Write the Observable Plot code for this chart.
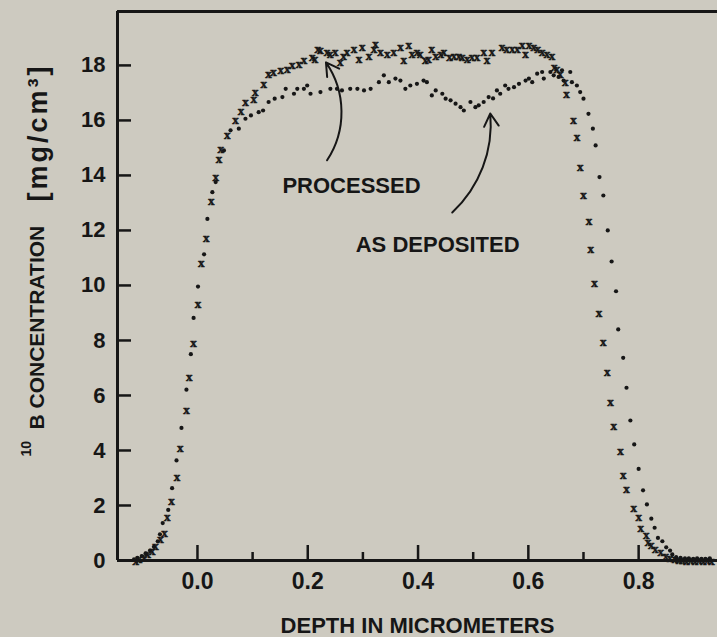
<!DOCTYPE html>
<html>
<head>
<meta charset="utf-8">
<script src="https://cdn.jsdelivr.net/npm/d3@7"></script>
<script src="https://cdn.jsdelivr.net/npm/@observablehq/plot@0.6"></script>
<style>
  html, body { margin: 0; padding: 0; background: #cdcac0; }
  #chart svg { display: block; }
</style>
</head>
<body>
<div id="chart"></div>
<script>
// 10B depth profile: processed film (x symbols)
const processedDepth = [
  -0.112, -0.106, -0.097, -0.090, -0.082, -0.076, -0.067, -0.060, -0.055, -0.047,
  -0.037, -0.031, -0.020, -0.015, -0.007, 0.001, 0.007, 0.016, 0.025, 0.033,
  0.039, 0.042, 0.054, 0.069, 0.079, 0.087, 0.102, 0.105, 0.120, 0.129,
  0.138, 0.151, 0.163, 0.172, 0.184, 0.193, 0.208, 0.213, 0.218, 0.223,
  0.235, 0.241, 0.250, 0.259, 0.265, 0.271, 0.284, 0.293, 0.299, 0.311,
  0.320, 0.323, 0.332, 0.344, 0.356, 0.368, 0.374, 0.383, 0.389, 0.398,
  0.404, 0.413, 0.419, 0.425, 0.432, 0.441, 0.447, 0.457, 0.465, 0.474,
  0.480, 0.489, 0.498, 0.507, 0.519, 0.525, 0.534, 0.552, 0.561, 0.571,
  0.580, 0.589, 0.595, 0.601, 0.610, 0.617, 0.625, 0.634, 0.643, 0.647,
  0.652, 0.658, 0.667, 0.669, 0.682, 0.688, 0.694, 0.700, 0.710, 0.713,
  0.720, 0.728, 0.736, 0.743, 0.749, 0.755, 0.767, 0.772, 0.778, 0.791,
  0.800, 0.804, 0.814, 0.817, 0.823, 0.830, 0.840, 0.849, 0.857, 0.866,
  0.873, 0.880, 0.887, 0.895, 0.902, 0.910, 0.917, 0.925, 0.932
];
const processedConc = [
  0.06, 0.12, 0.20, 0.28, 0.40, 0.58, 0.85, 1.07, 1.64, 2.22,
  3.09, 4.15, 5.55, 6.73, 7.97, 9.39, 10.87, 11.80, 13.13, 14.00,
  14.64, 15.03, 15.52, 16.06, 16.42, 16.73, 16.85, 17.09, 17.39, 17.76,
  17.82, 17.88, 17.94, 18.06, 18.12, 18.24, 18.36, 18.30, 18.67, 18.61,
  18.55, 18.48, 18.55, 18.18, 18.42, 18.55, 18.67, 18.30, 18.73, 18.42,
  18.67, 18.85, 18.55, 18.48, 18.55, 18.73, 18.24, 18.79, 18.48, 18.55,
  18.48, 18.24, 18.30, 18.67, 18.42, 18.48, 18.55, 18.36, 18.42, 18.42,
  18.36, 18.30, 18.36, 18.36, 18.55, 18.24, 18.55, 18.73, 18.67, 18.67,
  18.67, 18.79, 18.48, 18.79, 18.73, 18.67, 18.55, 18.48, 18.42, 18.00,
  17.94, 17.76, 17.45, 17.03, 16.06, 15.45, 14.36, 13.36, 12.39, 11.39,
  10.15, 9.05, 8.00, 6.91, 5.84, 4.95, 4.06, 3.18, 2.67, 1.96,
  1.64, 1.24, 0.99, 0.73, 0.61, 0.48, 0.36, 0.24, 0.15, 0.10,
  0.08, 0.08, 0.06, 0.08, 0.06, 0.08, 0.06, 0.08, 0.06
];

// 10B depth profile: film as deposited (dots)
const depositedDepth = [
  -0.115, -0.109, -0.101, -0.094, -0.086, -0.079, -0.072, -0.068, -0.063, -0.053,
  -0.046, -0.038, -0.029, -0.020, -0.012, -0.007, 0.001, 0.012, 0.018, 0.027,
  0.033, 0.048, 0.060, 0.075, 0.087, 0.097, 0.111, 0.119, 0.129, 0.140,
  0.154, 0.160, 0.175, 0.181, 0.193, 0.199, 0.205, 0.223, 0.241, 0.253,
  0.262, 0.277, 0.290, 0.302, 0.314, 0.329, 0.338, 0.347, 0.359, 0.368,
  0.377, 0.386, 0.398, 0.410, 0.416, 0.425, 0.432, 0.444, 0.450, 0.459,
  0.468, 0.477, 0.483, 0.495, 0.504, 0.510, 0.519, 0.528, 0.536, 0.543,
  0.549, 0.558, 0.564, 0.574, 0.583, 0.595, 0.601, 0.607, 0.616, 0.625,
  0.628, 0.640, 0.646, 0.655, 0.661, 0.664, 0.676, 0.679, 0.688, 0.694,
  0.700, 0.709, 0.717, 0.722, 0.729, 0.736, 0.744, 0.751, 0.759, 0.763,
  0.772, 0.778, 0.785, 0.792, 0.800, 0.808, 0.815, 0.823, 0.829, 0.835,
  0.843, 0.850, 0.857, 0.861, 0.868, 0.876, 0.884, 0.891, 0.899, 0.906,
  0.914, 0.921, 0.929
];
const depositedConc = [
  0.04, 0.10, 0.16, 0.26, 0.36, 0.50, 0.70, 0.95, 1.36, 1.84,
  2.63, 3.64, 4.82, 6.21, 7.50, 8.82, 9.96, 11.13, 12.42, 13.39,
  13.76, 14.91, 15.64, 15.70, 16.06, 16.18, 16.30, 16.36, 16.67, 16.79,
  16.85, 17.15, 16.97, 17.15, 17.15, 17.27, 16.97, 17.03, 17.15, 17.15,
  17.09, 17.15, 17.15, 17.09, 17.15, 17.39, 17.64, 17.39, 17.52, 17.45,
  17.15, 17.27, 17.33, 17.45, 17.39, 16.91, 17.09, 16.97, 16.79, 16.73,
  16.61, 16.48, 16.36, 16.67, 16.48, 16.55, 16.67, 16.85, 16.80, 17.09,
  16.97, 17.27, 17.15, 17.21, 17.33, 17.45, 17.52, 17.39, 17.70, 17.76,
  17.52, 17.76, 17.64, 17.58, 17.82, 17.45, 17.76, 17.39, 17.27, 17.03,
  16.79, 16.24, 15.70, 15.09, 13.94, 13.27, 12.00, 10.87, 9.79, 8.40,
  7.37, 6.28, 5.09, 4.22, 3.33, 2.55, 2.04, 1.52, 1.19, 0.82,
  0.70, 0.48, 0.36, 0.22, 0.12, 0.10, 0.08, 0.08, 0.06, 0.08,
  0.06, 0.06, 0.08
];

// Axis ticks and labels
const yTickValues = [0, 2, 4, 6, 8, 10, 12, 14, 16, 18];
const xMajorTicks = [0.0, 0.2, 0.4, 0.6, 0.8];
const xMinorTicks = [0.1, 0.3, 0.5, 0.7];
const xTickLabels = ["0.0", "0.2", "0.4", "0.6", "0.8"];
const xTitle = "DEPTH IN MICROMETERS";
const yTitleIsotope = "10";
const yTitleMain = "B CONCENTRATION";
const yTitleUnit = "[mg/cm\u00b3]";

// Curve labels and their arrows (depth, concentration)
const labelText = ["PROCESSED", "AS DEPOSITED"];
const labelDepth = [0.154, 0.287];
const labelConc = [13.35, 11.2];
const arrowFromDepth = [0.235, 0.462];
const arrowFromConc = [14.55, 12.65];
const arrowToDepth = [0.233, 0.531];
const arrowToConc = [18.11, 16.25];
const arrowBend = [-34, -26];

const processed = processedDepth.map((d, i) => ({depth: d, conc: processedConc[i]}));
const deposited = depositedDepth.map((d, i) => ({depth: d, conc: depositedConc[i]}));
const labels = labelText.map((t, i) => ({text: t, depth: labelDepth[i], conc: labelConc[i]}));
const arrows = arrowBend.map((b, i) => ({
  x1: arrowFromDepth[i], y1: arrowFromConc[i], x2: arrowToDepth[i], y2: arrowToConc[i]
}));

const ink = "#161616";
const W = 717, H = 637;
const mL = 117, mT = 11, mB = 77, mR = 0;
const innerW = W - mL - mR, innerH = H - mT - mB;
const xDomain = [-0.145, 0.943];
const yDomain = [0, 19.96];

const chart = Plot.plot({
  width: W,
  height: H,
  marginLeft: mL,
  marginTop: mT,
  marginBottom: mB,
  marginRight: mR,
  style: {
    background: "#cdcac0",
    color: ink,
    fontFamily: "'Liberation Sans', Arial, sans-serif",
    fontSize: "22px",
    fontWeight: "bold"
  },
  x: {domain: xDomain},
  y: {domain: yDomain},
  marks: [
    // tick labels
    Plot.axisX({ticks: xMajorTicks, tickSize: 0, tickPadding: 12,
      tickFormat: d => xTickLabels[xMajorTicks.indexOf(d)], fontSize: 23, fontWeight: "bold"}),
    Plot.axisY({ticks: yTickValues, tickSize: 0, tickPadding: 12, label: null,
      tickFormat: d => String(d), fontSize: 22, fontWeight: "bold"}),
    // inward ticks
    Plot.tickY(yTickValues, {y: d => d, insetRight: innerW - 14, stroke: ink, strokeWidth: 2.5}),
    Plot.tickX(xMajorTicks, {x: d => d, insetTop: innerH - 15, stroke: ink, strokeWidth: 2.5}),
    Plot.tickX(xMinorTicks, {x: d => d, insetTop: innerH - 8, stroke: ink, strokeWidth: 2.5}),
    // frame: left, top and bottom edges
    Plot.ruleX([xDomain[0]], {stroke: ink, strokeWidth: 3}),
    Plot.ruleY([yDomain[1]], {stroke: ink, strokeWidth: 3}),
    Plot.ruleY([yDomain[0]], {stroke: ink, strokeWidth: 3}),
    // data
    Plot.dot(deposited, {x: "depth", y: "conc", r: 2.1, fill: ink, stroke: null}),
    Plot.text(processed, {x: "depth", y: "conc", text: () => "x", fontSize: 13, fontWeight: "bold",
      fontFamily: "'Liberation Serif', serif", fill: ink, stroke: ink, strokeWidth: 0.5, dy: 1.5}),
    // curve labels
    Plot.text(labels, {x: "depth", y: "conc", text: "text", textAnchor: "start", lineAnchor: "bottom",
      fontSize: 22, fontWeight: "bold", fill: ink}),
    Plot.arrow([arrows[0]], {x1: "x1", y1: "y1", x2: "x2", y2: "y2", bend: arrowBend[0],
      stroke: ink, strokeWidth: 2, headLength: 11}),
    Plot.arrow([arrows[1]], {x1: "x1", y1: "y1", x2: "x2", y2: "y2", bend: arrowBend[1],
      stroke: ink, strokeWidth: 2, headLength: 11}),
    // x axis title
    Plot.text([xTitle], {frameAnchor: "bottom", dy: 65, lineAnchor: "middle", fontSize: 22,
      fontWeight: "bold", fill: ink}),
    // y axis title, read bottom to top: superscript isotope, name, unit
    Plot.text([yTitleIsotope], {frameAnchor: "top-left", rotate: -90, textAnchor: "start",
      lineAnchor: "middle", dx: -91, dy: 445, fontSize: 14, fontWeight: "bold", fill: ink}),
    Plot.text([yTitleMain], {frameAnchor: "top-left", rotate: -90, textAnchor: "start",
      lineAnchor: "middle", dx: -80, dy: 418, fontSize: 21, fontWeight: "bold", fill: ink}),
    Plot.text([yTitleUnit], {frameAnchor: "top-left", rotate: -90, textAnchor: "start",
      lineAnchor: "middle", dx: -79, dy: 190, fontSize: 27, fontWeight: "bold", fill: ink})
  ]
});

// a little extra tracking on the unit, as set on the original figure
d3.select(chart).selectAll("text")
  .filter(function () { return this.textContent === yTitleUnit; })
  .attr("letter-spacing", 3);

document.getElementById("chart").appendChild(chart);
</script>
</body>
</html>
